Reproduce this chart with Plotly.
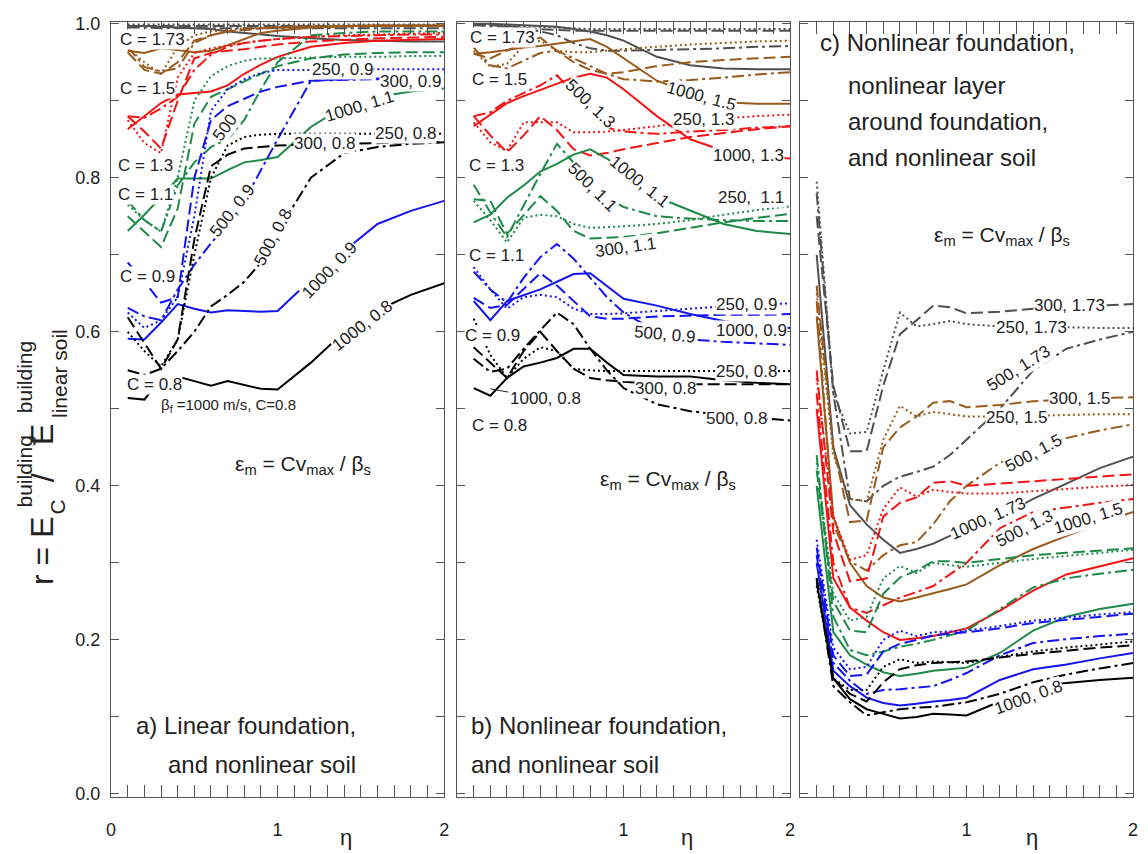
import plotly.graph_objects as go

# ---------------- data ----------------
ETA = [0.1, 0.2, 0.3, 0.4, 0.5, 0.6, 0.7, 0.8, 0.9, 1.0, 1.2, 1.4, 1.6, 1.8, 2.0]

# panel a) linear foundation, nonlinear soil
a_080_1000 = [0.514, 0.512, 0.540, 0.542, 0.536, 0.530, 0.536, 0.531, 0.526, 0.525, 0.560, 0.600, 0.628, 0.648, 0.663]
a_080_500 = [0.550, 0.544, 0.552, 0.575, 0.600, 0.633, 0.648, 0.665, 0.690, 0.730, 0.800, 0.832, 0.840, 0.844, 0.846]
a_080_300 = [0.619, 0.585, 0.552, 0.590, 0.720, 0.815, 0.830, 0.838, 0.840, 0.842, 0.843, 0.844, 0.845, 0.846, 0.846]
a_080_250 = [0.600, 0.575, 0.555, 0.590, 0.700, 0.800, 0.842, 0.853, 0.856, 0.857, 0.857, 0.857, 0.857, 0.857, 0.857]
a_090_1000 = [0.591, 0.590, 0.612, 0.636, 0.630, 0.625, 0.628, 0.627, 0.626, 0.627, 0.668, 0.705, 0.740, 0.757, 0.770]
a_090_500 = [0.631, 0.620, 0.615, 0.655, 0.687, 0.715, 0.740, 0.770, 0.810, 0.850, 0.926, 0.927, 0.928, 0.928, 0.929]
a_090_300 = [0.690, 0.665, 0.638, 0.645, 0.800, 0.875, 0.893, 0.903, 0.912, 0.918, 0.926, 0.928, 0.929, 0.929, 0.929]
a_090_250 = [0.625, 0.605, 0.615, 0.645, 0.750, 0.887, 0.915, 0.928, 0.936, 0.940, 0.940, 0.940, 0.941, 0.941, 0.941]
a_110_1000 = [0.731, 0.752, 0.775, 0.799, 0.799, 0.799, 0.810, 0.820, 0.823, 0.827, 0.866, 0.893, 0.905, 0.912, 0.916]
a_110_500 = [0.770, 0.745, 0.730, 0.790, 0.820, 0.840, 0.850, 0.875, 0.915, 0.950, 0.985, 0.988, 0.990, 0.990, 0.990]
a_110_300 = [0.750, 0.730, 0.710, 0.760, 0.870, 0.905, 0.915, 0.925, 0.935, 0.945, 0.955, 0.960, 0.962, 0.963, 0.963]
a_110_250 = [0.765, 0.745, 0.730, 0.800, 0.900, 0.932, 0.945, 0.952, 0.955, 0.955, 0.956, 0.957, 0.957, 0.958, 0.958]
a_130_1000 = [0.863, 0.880, 0.897, 0.908, 0.910, 0.912, 0.920, 0.935, 0.947, 0.957, 0.970, 0.975, 0.978, 0.979, 0.980]
a_130_500 = [0.880, 0.878, 0.890, 0.905, 0.940, 0.960, 0.970, 0.975, 0.978, 0.980, 0.983, 0.984, 0.985, 0.986, 0.986]
a_130_300 = [0.880, 0.860, 0.838, 0.900, 0.955, 0.962, 0.965, 0.967, 0.970, 0.973, 0.977, 0.979, 0.981, 0.982, 0.983]
a_130_250 = [0.875, 0.845, 0.832, 0.930, 0.962, 0.968, 0.972, 0.975, 0.978, 0.980, 0.983, 0.985, 0.986, 0.987, 0.988]
a_150_1000 = [0.965, 0.962, 0.968, 0.966, 0.963, 0.965, 0.972, 0.980, 0.988, 0.991, 0.995, 0.997, 0.998, 0.998, 0.998]
a_150_500 = [0.970, 0.944, 0.938, 0.942, 0.975, 0.985, 0.990, 0.992, 0.994, 0.995, 0.996, 0.997, 0.997, 0.997, 0.997]
a_150_300 = [0.963, 0.940, 0.935, 0.950, 0.978, 0.985, 0.990, 0.992, 0.994, 0.995, 0.996, 0.996, 0.997, 0.997, 0.997]
a_150_250 = [0.968, 0.950, 0.935, 0.970, 0.985, 0.990, 0.992, 0.994, 0.995, 0.996, 0.997, 0.997, 0.997, 0.997, 0.997]
a_173_1000 = [0.997, 0.997, 0.996, 0.995, 0.994, 0.993, 0.990, 0.988, 0.986, 0.984, 0.981, 0.979, 0.978, 0.977, 0.977]
a_173_500 = [0.995, 0.995, 0.994, 0.994, 0.994, 0.994, 0.994, 0.994, 0.994, 0.994, 0.994, 0.994, 0.994, 0.994, 0.994]
a_173_300 = [0.997, 0.997, 0.997, 0.997, 0.997, 0.997, 0.997, 0.997, 0.997, 0.997, 0.997, 0.997, 0.997, 0.997, 0.997]
a_173_250 = [0.999, 0.999, 0.999, 0.999, 0.999, 0.999, 0.999, 0.999, 0.999, 0.999, 0.999, 0.999, 0.999, 0.999, 0.999]

# panel b) nonlinear foundation, nonlinear soil
b_080_1000 = [0.527, 0.517, 0.540, 0.555, 0.560, 0.566, 0.578, 0.578, 0.560, 0.544, 0.542, 0.542, 0.537, 0.534, 0.532]
b_080_500 = [0.565, 0.548, 0.552, 0.578, 0.602, 0.625, 0.610, 0.578, 0.550, 0.527, 0.506, 0.497, 0.492, 0.488, 0.485]
b_080_300 = [0.580, 0.560, 0.540, 0.575, 0.600, 0.575, 0.552, 0.540, 0.537, 0.535, 0.533, 0.532, 0.532, 0.532, 0.532]
b_080_250 = [0.617, 0.570, 0.540, 0.565, 0.580, 0.575, 0.552, 0.550, 0.549, 0.549, 0.549, 0.549, 0.549, 0.549, 0.549]
b_090_1000 = [0.640, 0.615, 0.640, 0.648, 0.655, 0.665, 0.675, 0.676, 0.660, 0.643, 0.634, 0.623, 0.614, 0.608, 0.605]
b_090_500 = [0.678, 0.655, 0.638, 0.670, 0.697, 0.714, 0.695, 0.670, 0.645, 0.625, 0.600, 0.590, 0.587, 0.585, 0.583]
b_090_300 = [0.644, 0.631, 0.635, 0.655, 0.676, 0.660, 0.640, 0.620, 0.617, 0.617, 0.620, 0.621, 0.622, 0.622, 0.623]
b_090_250 = [0.684, 0.655, 0.630, 0.645, 0.648, 0.645, 0.630, 0.623, 0.623, 0.624, 0.627, 0.630, 0.633, 0.635, 0.637]
b_110_1000 = [0.742, 0.752, 0.774, 0.790, 0.808, 0.818, 0.830, 0.837, 0.825, 0.810, 0.775, 0.757, 0.740, 0.731, 0.727]
b_110_500 = [0.791, 0.755, 0.723, 0.765, 0.805, 0.844, 0.820, 0.795, 0.775, 0.762, 0.750, 0.747, 0.745, 0.744, 0.744]
b_110_300 = [0.772, 0.770, 0.727, 0.752, 0.776, 0.757, 0.731, 0.721, 0.722, 0.723, 0.728, 0.735, 0.742, 0.748, 0.753]
b_110_250 = [0.770, 0.745, 0.716, 0.748, 0.752, 0.750, 0.740, 0.735, 0.736, 0.737, 0.740, 0.745, 0.752, 0.758, 0.763]
b_130_1000 = [0.867, 0.882, 0.897, 0.906, 0.914, 0.922, 0.930, 0.935, 0.930, 0.915, 0.880, 0.850, 0.835, 0.828, 0.825]
b_130_500 = [0.880, 0.885, 0.900, 0.910, 0.920, 0.933, 0.910, 0.885, 0.865, 0.860, 0.857, 0.860, 0.862, 0.865, 0.867]
b_130_300 = [0.880, 0.855, 0.833, 0.855, 0.880, 0.862, 0.837, 0.829, 0.832, 0.837, 0.845, 0.853, 0.858, 0.863, 0.867]
b_130_250 = [0.872, 0.846, 0.835, 0.872, 0.872, 0.872, 0.859, 0.859, 0.860, 0.862, 0.867, 0.873, 0.877, 0.880, 0.882]
b_150_1000 = [0.961, 0.963, 0.966, 0.969, 0.971, 0.974, 0.977, 0.980, 0.970, 0.955, 0.926, 0.910, 0.898, 0.896, 0.896]
b_150_500 = [0.969, 0.946, 0.942, 0.952, 0.962, 0.965, 0.955, 0.945, 0.935, 0.928, 0.925, 0.927, 0.930, 0.934, 0.937]
b_150_300 = [0.961, 0.955, 0.965, 0.975, 0.982, 0.965, 0.950, 0.940, 0.935, 0.937, 0.945, 0.950, 0.953, 0.955, 0.957]
b_150_250 = [0.965, 0.944, 0.948, 0.972, 0.978, 0.965, 0.963, 0.963, 0.965, 0.967, 0.970, 0.973, 0.975, 0.977, 0.978]
b_173_1000 = [1.000, 1.000, 0.999, 0.998, 0.997, 0.996, 0.993, 0.990, 0.985, 0.978, 0.957, 0.946, 0.942, 0.941, 0.941]
b_173_500 = [0.998, 0.997, 0.996, 0.994, 0.990, 0.985, 0.975, 0.968, 0.965, 0.965, 0.966, 0.967, 0.968, 0.970, 0.971]
b_173_300 = [0.999, 0.998, 0.997, 0.995, 0.993, 0.992, 0.991, 0.991, 0.991, 0.991, 0.991, 0.991, 0.991, 0.991, 0.991]
b_173_250 = [0.999, 0.999, 0.998, 0.997, 0.996, 0.995, 0.994, 0.993, 0.993, 0.993, 0.993, 0.993, 0.993, 0.993, 0.993]

# panel c) nonlinear foundation, nonlinear layer around foundation, nonlinear soil
c_080_1000 = [0.276, 0.150, 0.123, 0.110, 0.104, 0.098, 0.100, 0.104, 0.103, 0.102, 0.120, 0.140, 0.144, 0.148, 0.151]
c_080_500 = [0.280, 0.140, 0.119, 0.102, 0.106, 0.110, 0.112, 0.113, 0.116, 0.119, 0.130, 0.145, 0.155, 0.163, 0.170]
c_080_300 = [0.280, 0.150, 0.130, 0.120, 0.145, 0.162, 0.167, 0.170, 0.171, 0.172, 0.177, 0.182, 0.186, 0.190, 0.193]
c_080_250 = [0.270, 0.150, 0.135, 0.135, 0.165, 0.175, 0.170, 0.172, 0.171, 0.170, 0.178, 0.185, 0.190, 0.194, 0.198]
c_090_1000 = [0.300, 0.160, 0.140, 0.125, 0.118, 0.115, 0.117, 0.120, 0.122, 0.125, 0.148, 0.162, 0.168, 0.176, 0.183]
c_090_500 = [0.310, 0.170, 0.147, 0.130, 0.135, 0.136, 0.138, 0.140, 0.148, 0.157, 0.180, 0.196, 0.201, 0.205, 0.208]
c_090_300 = [0.320, 0.180, 0.153, 0.155, 0.185, 0.195, 0.200, 0.206, 0.208, 0.210, 0.215, 0.222, 0.226, 0.230, 0.234]
c_090_250 = [0.330, 0.190, 0.162, 0.165, 0.200, 0.212, 0.205, 0.210, 0.211, 0.212, 0.218, 0.225, 0.229, 0.233, 0.236]
c_110_1000 = [0.400, 0.210, 0.180, 0.168, 0.158, 0.153, 0.156, 0.160, 0.162, 0.164, 0.183, 0.212, 0.230, 0.240, 0.247]
c_110_500 = [0.440, 0.230, 0.187, 0.180, 0.185, 0.191, 0.195, 0.200, 0.206, 0.212, 0.240, 0.268, 0.280, 0.286, 0.291]
c_110_300 = [0.420, 0.250, 0.212, 0.210, 0.260, 0.281, 0.290, 0.302, 0.302, 0.300, 0.305, 0.310, 0.313, 0.316, 0.319]
c_110_250 = [0.430, 0.260, 0.225, 0.230, 0.280, 0.296, 0.287, 0.300, 0.297, 0.295, 0.300, 0.305, 0.309, 0.313, 0.317]
c_130_1000 = [0.500, 0.280, 0.242, 0.225, 0.210, 0.200, 0.202, 0.205, 0.210, 0.215, 0.238, 0.264, 0.285, 0.296, 0.306]
c_130_500 = [0.520, 0.300, 0.242, 0.235, 0.245, 0.255, 0.262, 0.270, 0.285, 0.300, 0.345, 0.366, 0.372, 0.378, 0.383]
c_130_300 = [0.550, 0.340, 0.276, 0.280, 0.360, 0.378, 0.385, 0.404, 0.406, 0.400, 0.403, 0.406, 0.409, 0.412, 0.415]
c_130_250 = [0.540, 0.360, 0.304, 0.310, 0.370, 0.398, 0.386, 0.395, 0.392, 0.390, 0.390, 0.393, 0.396, 0.399, 0.401]
c_150_1000 = [0.620, 0.360, 0.300, 0.270, 0.255, 0.250, 0.255, 0.260, 0.266, 0.272, 0.297, 0.318, 0.335, 0.352, 0.366]
c_150_500 = [0.640, 0.350, 0.302, 0.290, 0.310, 0.323, 0.327, 0.350, 0.380, 0.400, 0.430, 0.448, 0.462, 0.472, 0.480]
c_150_300 = [0.660, 0.450, 0.353, 0.355, 0.450, 0.476, 0.490, 0.508, 0.510, 0.502, 0.505, 0.510, 0.512, 0.514, 0.515]
c_150_250 = [0.650, 0.440, 0.383, 0.380, 0.460, 0.504, 0.490, 0.496, 0.493, 0.490, 0.490, 0.491, 0.492, 0.493, 0.493]
c_173_1000 = [0.700, 0.450, 0.375, 0.350, 0.330, 0.313, 0.318, 0.325, 0.335, 0.345, 0.360, 0.383, 0.403, 0.423, 0.438]
c_173_500 = [0.780, 0.520, 0.383, 0.380, 0.400, 0.412, 0.418, 0.425, 0.440, 0.460, 0.500, 0.550, 0.578, 0.590, 0.600]
c_173_300 = [0.750, 0.530, 0.445, 0.445, 0.530, 0.597, 0.615, 0.634, 0.632, 0.624, 0.626, 0.630, 0.632, 0.634, 0.636]
c_173_250 = [0.795, 0.520, 0.468, 0.470, 0.550, 0.625, 0.607, 0.610, 0.614, 0.610, 0.607, 0.606, 0.606, 0.605, 0.605]

X_TICK_LABELS_A = ["0", "1", "2"]
X_TICK_LABELS_BC = ["1", "2"]
Y_TICK_LABELS = ["0.0", "0.2", "0.4", "0.6", "0.8", "1.0"]

COLORS = {"0.8": "#000000", "0.9": "#1414f0", "1.1": "#1d8a48", "1.3": "#f21414",
          "1.5": "#9a5a1c", "1.73": "#505050"}
DASHES = {1000: "solid", 500: "12px,4px,3px,4px", 300: "12px,5px", 250: "2px,3px"}

panel_a = [(a_173_1000, "1.73", 1000), (a_173_500, "1.73", 500), (a_173_300, "1.73", 300), (a_173_250, "1.73", 250),
           (a_150_1000, "1.5", 1000), (a_150_500, "1.5", 500), (a_150_300, "1.5", 300), (a_150_250, "1.5", 250),
           (a_130_1000, "1.3", 1000), (a_130_500, "1.3", 500), (a_130_300, "1.3", 300), (a_130_250, "1.3", 250),
           (a_110_1000, "1.1", 1000), (a_110_500, "1.1", 500), (a_110_300, "1.1", 300), (a_110_250, "1.1", 250),
           (a_090_1000, "0.9", 1000), (a_090_500, "0.9", 500), (a_090_300, "0.9", 300), (a_090_250, "0.9", 250),
           (a_080_1000, "0.8", 1000), (a_080_500, "0.8", 500), (a_080_300, "0.8", 300), (a_080_250, "0.8", 250)]
panel_b = [(b_173_1000, "1.73", 1000), (b_173_500, "1.73", 500), (b_173_300, "1.73", 300), (b_173_250, "1.73", 250),
           (b_150_1000, "1.5", 1000), (b_150_500, "1.5", 500), (b_150_300, "1.5", 300), (b_150_250, "1.5", 250),
           (b_130_1000, "1.3", 1000), (b_130_500, "1.3", 500), (b_130_300, "1.3", 300), (b_130_250, "1.3", 250),
           (b_110_1000, "1.1", 1000), (b_110_500, "1.1", 500), (b_110_300, "1.1", 300), (b_110_250, "1.1", 250),
           (b_090_1000, "0.9", 1000), (b_090_500, "0.9", 500), (b_090_300, "0.9", 300), (b_090_250, "0.9", 250),
           (b_080_1000, "0.8", 1000), (b_080_500, "0.8", 500), (b_080_300, "0.8", 300), (b_080_250, "0.8", 250)]
panel_c = [(c_173_1000, "1.73", 1000), (c_173_500, "1.73", 500), (c_173_300, "1.73", 300), (c_173_250, "1.73", 250),
           (c_150_1000, "1.5", 1000), (c_150_500, "1.5", 500), (c_150_300, "1.5", 300), (c_150_250, "1.5", 250),
           (c_130_1000, "1.3", 1000), (c_130_500, "1.3", 500), (c_130_300, "1.3", 300), (c_130_250, "1.3", 250),
           (c_110_1000, "1.1", 1000), (c_110_500, "1.1", 500), (c_110_300, "1.1", 300), (c_110_250, "1.1", 250),
           (c_090_1000, "0.9", 1000), (c_090_500, "0.9", 500), (c_090_300, "0.9", 300), (c_090_250, "0.9", 250),
           (c_080_1000, "0.8", 1000), (c_080_500, "0.8", 500), (c_080_300, "0.8", 300), (c_080_250, "0.8", 250)]

# in-plot labels: (text, x, y, angle, anchor)
labels_a = [("C = 1.73", 0.048, 0.980, 0, "left"), ("C = 1.5", 0.048, 0.916, 0, "left"),
            ("C = 1.3", 0.036, 0.816, 0, "left"), ("C = 1.1", 0.036, 0.778, 0, "left"),
            ("C = 0.9", 0.048, 0.672, 0, "left"), ("C = 0.8", 0.089, 0.532, 0, "left"),
            ("250, 0.9", 1.20, 0.940, 0, "left"), ("300, 0.9", 1.61, 0.925, 0, "left"),
            ("1000, 1.1", 1.49, 0.893, -17, "center"), ("250, 0.8", 1.58, 0.857, 0, "left"),
            ("300, 0.8", 1.09, 0.844, 0, "left"), ("500", 0.685, 0.865, -54, "center"),
            ("500, 0.9", 0.73, 0.757, -52, "center"), ("500, 0.8", 0.97, 0.723, -62, "center"),
            ("1000, 0.9", 1.31, 0.680, -46, "center"), ("1000, 0.8", 1.51, 0.608, -38, "center")]
labels_b = [("C = 1.73", 0.070, 0.982, 0, "left"), ("C = 1.5", 0.083, 0.927, 0, "left"),
            ("C = 1.3", 0.065, 0.816, 0, "left"), ("C = 1.1", 0.065, 0.699, 0, "left"),
            ("C = 0.9", 0.042, 0.595, 0, "left"), ("C = 0.8", 0.083, 0.478, 0, "left"),
            ("1000, 1.5", 1.47, 0.906, 15, "center"), ("500, 1.3", 0.80, 0.897, 44, "center"),
            ("250, 1.3", 1.29, 0.876, 0, "left"), ("1000, 1.3", 1.53, 0.829, 0, "left"),
            ("1000, 1.1", 1.095, 0.795, 39, "center"), ("500, 1.1", 0.816, 0.788, 45, "center"),
            ("250,  1.1", 1.56, 0.774, 0, "left"), ("300, 1.1", 1.01, 0.710, -8, "center"),
            ("250, 0.9", 1.55, 0.635, 0, "left"), ("1000, 0.9", 1.55, 0.602, 0, "left"),
            ("500, 0.9", 1.05, 0.596, 5, "left"), ("250, 0.8", 1.55, 0.548, 0, "left"),
            ("300, 0.8", 1.065, 0.526, 0, "left"), ("500, 0.8", 1.49, 0.487, 0, "left")]
labels_c = [("300, 1.73", 1.40, 0.634, 0, "left"), ("250, 1.73", 1.17, 0.606, 0, "left"),
            ("500, 1.73", 1.31, 0.553, -32, "center"), ("300, 1.5", 1.49, 0.513, 0, "left"),
            ("250, 1.5", 1.11, 0.489, 0, "left"), ("500, 1.5", 1.40, 0.442, -28, "center"),
            ("1000, 1.73", 1.13, 0.357, -24, "center"), ("500, 1.3", 1.35, 0.344, -27, "center"),
            ("1000, 1.5", 1.73, 0.357, -17, "center"), ("1000, 0.8", 1.37, 0.125, -20, "center")]

titles_a = [("a) Linear foundation,", 0.137, 0.089), ("and nonlinear soil", 0.327, 0.038)]
titles_b = [("b) Nonlinear foundation,", 0.071, 0.089), ("and nonlinear soil", 0.071, 0.038)]
titles_c = [("c) Nonlinear foundation,", 0.107, 0.975), ("nonlinear layer", 0.274, 0.920),
            ("around foundation,", 0.274, 0.873), ("and nonlinear soil", 0.274, 0.826)]
EPS_TEXT = "ε<sub>m</sub> = Cv<sub>max</sub> / β<sub>s</sub>"
eps_pos = [(0.73, 0.427), (0.845, 0.408), (0.79, 0.725)]
ETA_PX = [344, 688, 1036]

# ---------------- figure ----------------
FONT = "Liberation Sans, Arial, sans-serif"
FRAME = "#555555"
TXT = "#222222"
W, H = 1148, 854
XDOM = [(107 / W, 443 / W), (456 / W, 792 / W), (802 / W, 1138 / W)]
YDOM = ((854 - 803) / H, (854 - 14) / H)

fig = go.Figure()
for idx, series in enumerate([panel_a, panel_b, panel_c], start=1):
    xa = "x" if idx == 1 else f"x{idx}"
    ya = "y" if idx == 1 else f"y{idx}"
    for vals, c, b in series:
        fig.add_trace(go.Scatter(x=ETA, y=vals, mode="lines",
                                 line=dict(color=COLORS[c], dash=DASHES[b], width=2),
                                 xaxis=xa, yaxis=ya, showlegend=False, hoverinfo="skip"))

for idx in range(1, 4):
    sfx = "" if idx == 1 else str(idx)
    if idx == 1:
        xtv, xtt = [0, 1, 2], X_TICK_LABELS_A
    else:
        xtv, xtt = [1, 2], X_TICK_LABELS_BC
    fig.layout["xaxis" + sfx] = dict(domain=list(XDOM[idx - 1]), range=[0, 2], anchor="y" + sfx,
                                     tickmode="array", tickvals=xtv, ticktext=xtt, ticks="inside",
                                     ticklen=12, tickwidth=1, tickcolor=FRAME,
                                     minor=dict(ticks="inside", ticklen=12, tickwidth=1, tickcolor=FRAME,
                                                tick0=0, dtick=0.1, showgrid=False),
                                     showline=True, linecolor=FRAME, linewidth=1.3, mirror="allticks",
                                     showgrid=False, zeroline=False, ticklabelstandoff=16,
                                     tickfont=dict(family=FONT, size=18, color=TXT))
    fig.layout["yaxis" + sfx] = dict(domain=list(YDOM), range=[-3 / 784, 1 + 2 / 784], anchor="x" + sfx,
                                     tickmode="array", tickvals=[0, 0.2, 0.4, 0.6, 0.8, 1.0],
                                     ticktext=Y_TICK_LABELS, showticklabels=(idx == 1),
                                     ticks="inside", ticklen=8, tickwidth=1, tickcolor=FRAME,
                                     minor=dict(ticks="inside", ticklen=8, tickwidth=1, tickcolor=FRAME,
                                                tick0=0, dtick=0.1, showgrid=False),
                                     showline=True, linecolor=FRAME, linewidth=1.3, mirror="allticks",
                                     showgrid=False, zeroline=False, ticklabelstandoff=6,
                                     tickfont=dict(family=FONT, size=18, color=TXT))

ann = []
for idx, (labs, tits) in enumerate([(labels_a, titles_a), (labels_b, titles_b), (labels_c, titles_c)], start=1):
    xr = "x" if idx == 1 else f"x{idx}"
    yr = "y" if idx == 1 else f"y{idx}"
    for text, x, y, ang, anc in labs:
        ann.append(dict(text=text, x=x, y=y, xref=xr, yref=yr, showarrow=False, textangle=ang,
                        xanchor=anc, yanchor="middle", bgcolor="white", borderpad=0,
                        font=dict(family=FONT, size=17, color=TXT)))
    for text, x, y in tits:
        ann.append(dict(text=text, x=x, y=y, xref=xr, yref=yr, showarrow=False,
                        xanchor="left", yanchor="middle",
                        font=dict(family=FONT, size=24, color=TXT)))
    ex, ey = eps_pos[idx - 1]
    ann.append(dict(text=EPS_TEXT, x=ex, y=ey, xref=xr, yref=yr, showarrow=False,
                    xanchor="left", yanchor="middle", font=dict(family=FONT, size=21, color=TXT)))
    ann.append(dict(text="η", x=ETA_PX[idx - 1] / W, y=1 - 844 / H, xref="paper", yref="paper",
                    showarrow=False, xanchor="center", yanchor="middle",
                    font=dict(family=FONT, size=22, color=TXT)))

# extra labels
ann.append(dict(text="β<sub>f</sub> =1000 m/s, C=0.8", x=0.286, y=0.504, xref="x", yref="y",
                showarrow=False, xanchor="left", yanchor="middle", bgcolor="white",
                font=dict(family=FONT, size=15, color=TXT)))
ann.append(dict(text="1000, 0.8", x=0.20, y=0.526, xref="x2", yref="y2", showarrow=True,
                arrowhead=0, arrowwidth=1, arrowcolor=TXT, ax=55, ay=10, standoff=0,
                bgcolor="white", font=dict(family=FONT, size=17, color=TXT)))

# y-axis title pieces (rotated)
ytitle = [("r = E", 38, 553, 32), ("C", 53, 508, 21), ("building", 20, 472, 21),
          ("/", 38, 478, 32), ("E", 38, 434, 32), ("linear soil", 55, 372, 21),
          ("building", 20, 376, 21)]
for text, px, py, fs in ytitle:
    ann.append(dict(text=text, x=px / W, y=1 - py / H, xref="paper", yref="paper", showarrow=False,
                    textangle=-90, xanchor="center", yanchor="middle",
                    font=dict(family=FONT, size=fs, color=TXT)))

fig.update_layout(width=W, height=H, margin=dict(l=0, r=0, t=0, b=0),
                  paper_bgcolor="white", plot_bgcolor="white", annotations=ann,
                  font=dict(family=FONT, color=TXT))
fig.write_html("out.html", config={"displayModeBar": False},
               post_script="document.body.style.margin='0px';document.body.style.overflow='hidden';")
